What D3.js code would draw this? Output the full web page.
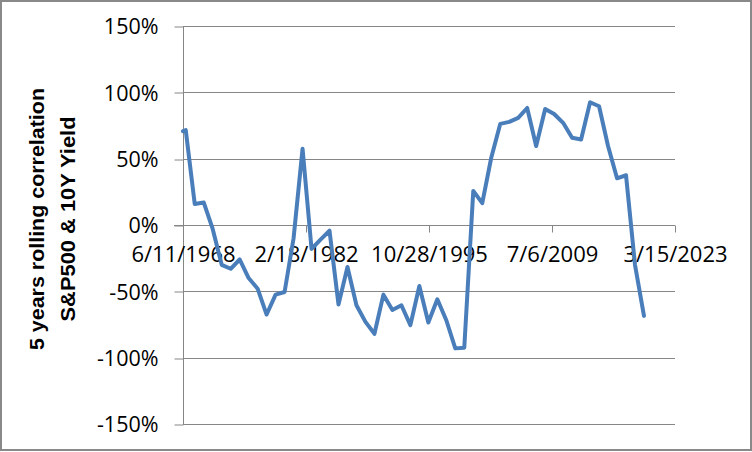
<!DOCTYPE html>
<html>
<head>
<meta charset="utf-8">
<script src="https://cdn.jsdelivr.net/npm/d3@7"></script>
<style>
  html, body { margin: 0; padding: 0; background: #fff; }
  svg { display: block; }
</style>
</head>
<body>
<svg id="chart" width="752" height="452"></svg>
<script>
// ---- data ----
const dates = [
  "1968-06-11","1968-10-01","1969-10-01","1970-10-01","1971-10-01","1972-10-01",
  "1973-10-01","1974-10-01","1975-10-01","1976-10-01","1977-10-01","1978-10-01",
  "1979-10-01","1980-10-01","1981-10-01","1982-10-01","1983-10-01","1984-10-01",
  "1985-10-01","1986-10-01","1987-10-01","1988-10-01","1989-10-01","1990-10-01",
  "1991-10-01","1992-10-01","1993-10-01","1994-10-01","1995-10-01","1996-10-01",
  "1997-10-01","1998-10-01","1999-10-01","2000-10-01","2001-10-01","2002-10-01",
  "2003-10-01","2004-10-01","2005-10-01","2006-10-01","2007-10-01","2008-10-01",
  "2009-10-01","2010-10-01","2011-10-01","2012-10-01","2013-10-01","2014-10-01",
  "2015-10-01","2016-10-01","2017-10-01","2018-10-01","2019-10-01"
];
const correlation = [
  70.7, 71.5, 15.8, 17.0, -3.0, -30.0,
  -33.0, -26.0, -40.0, -48.0, -67.5, -52.5,
  -50.5, -10.0, 57.5, -18.0, -11.0, -4.3,
  -60.0, -31.7, -60.5, -73.0, -82.0, -52.5,
  -64.0, -60.5, -75.5, -46.0, -73.5, -56.0,
  -71.8, -93.0, -92.5, 25.7, 16.5, 50.7,
  76.2, 77.7, 80.7, 88.2, 59.5, 87.5,
  83.7, 77.0, 65.7, 64.5, 92.5, 89.5,
  59.5, 35.2, 37.5, -30.0, -68.5
];
const xTickDates = ["1968-06-11","1982-02-18","1995-10-28","2009-07-06","2023-03-15"];
const yTicks = [-150, -100, -50, 0, 50, 100, 150];
const yTitleLines = ["5 years rolling correlation", "S&P500 & 10Y Yield"];

// ---- layout ----
const svg = d3.select("#chart");
const W = 752, H = 452;
const plot = { left: 183, right: 675, top: 26, bottom: 424 };
const gridColor = "#868686";
const lineColor = "#4a7ebb";
const font = "'Open Sans', 'Liberation Sans', sans-serif";

const parse = d3.timeParse("%Y-%m-%d");
const x = d3.scaleTime()
  .domain([parse(xTickDates[0]), parse(xTickDates[xTickDates.length - 1])])
  .range([plot.left, plot.right]);
const y = d3.scaleLinear().domain([-150, 150]).range([plot.bottom, plot.top]);

// outer frame
svg.append("rect")
  .attr("x", 1).attr("y", 1).attr("width", W - 2).attr("height", H - 3)
  .attr("fill", "#fff").attr("stroke", "#898989").attr("stroke-width", 2);

// horizontal gridlines
svg.append("g").selectAll("line").data(yTicks.filter(v => v !== 0)).join("line")
  .attr("x1", plot.left).attr("x2", plot.right)
  .attr("y1", d => Math.round(y(d)) + 0.5).attr("y2", d => Math.round(y(d)) + 0.5)
  .attr("stroke", gridColor).attr("stroke-width", 1);

// y axis
const yAxis = d3.axisLeft(y).tickValues(yTicks).tickSize(9).tickPadding(16)
  .tickFormat(d => d + "%");
const gy = svg.append("g").attr("transform", `translate(${plot.left + 0.5},0)`).call(yAxis);
gy.select(".domain").attr("stroke", gridColor).attr("d", `M0,${plot.top}V${plot.bottom}`);
gy.selectAll(".tick line").attr("stroke", gridColor)
  .attr("transform", d => `translate(0,${Math.round(y(d)) + 0.5 - y(d)})`);
gy.selectAll(".tick text").attr("font-family", font).attr("font-size", 21.5)
  .attr("fill", "#000").attr("dy", "0.36em");

// x axis at 0
const xAxis = d3.axisBottom(x).tickValues(xTickDates.map(parse)).tickSize(7).tickPadding(10)
  .tickFormat(d3.timeFormat("%-m/%-d/%Y"));
const gx = svg.append("g").attr("transform", `translate(0,${Math.round(y(0)) + 0.5})`).call(xAxis);
gx.select(".domain").attr("stroke", gridColor).attr("d", `M${plot.left - 9},0H${plot.right}`);
gx.selectAll(".tick line").attr("stroke", gridColor);
gx.selectAll(".tick text").attr("font-family", font).attr("font-size", 22)
  .attr("fill", "#000").attr("dy", "0.88em");

// y axis title
const titleCenterY = 219;
const titleX = [37, 68];
const titleLen = [262, 205];
yTitleLines.forEach((t, i) => {
  svg.append("text")
    .attr("transform", `translate(${titleX[i]},${titleCenterY}) rotate(-90)`)
    .attr("text-anchor", "middle").attr("dy", "0.35em")
    .attr("font-family", "'Liberation Sans', Arial, sans-serif")
    .attr("font-weight", "bold").attr("font-size", 20)
    .attr("textLength", titleLen[i]).attr("lengthAdjust", "spacingAndGlyphs")
    .attr("fill", "#000")
    .text(t);
});

// series line
const data = dates.map((d, i) => ({ date: parse(d), value: correlation[i] }));
const line = d3.line().x(d => x(d.date)).y(d => y(d.value));
svg.append("path").datum(data)
  .attr("d", line)
  .attr("fill", "none").attr("stroke", lineColor)
  .attr("stroke-width", 4).attr("stroke-linejoin", "round").attr("stroke-linecap", "round");
</script>
</body>
</html>
